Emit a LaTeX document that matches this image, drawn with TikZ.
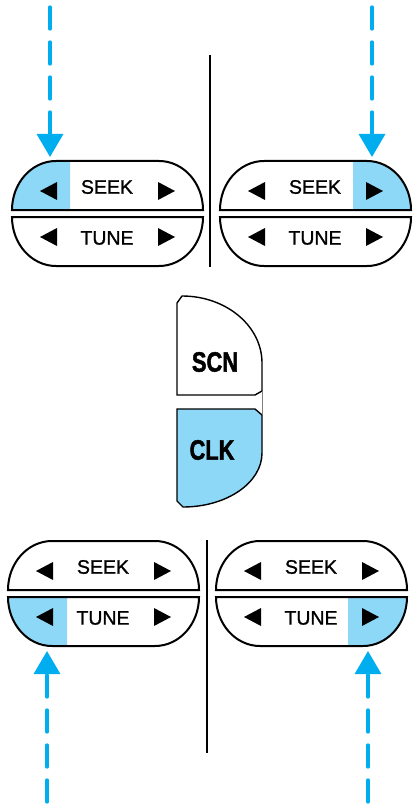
\documentclass[tikz,border=0pt]{standalone}
\usepackage{fontspec}
\setmainfont{Liberation Sans}
\newfontfamily\keyfont[FakeBold=1.2]{Liberation Sans}
\newfontfamily\padfont[FakeStretch=0.78, FakeBold=1.6]{Liberation Sans}
\usetikzlibrary{arrows.meta}

\definecolor{keyblue}{RGB}{142,216,247}
\definecolor{feedcyan}{RGB}{0,174,239}

% one SEEK/TUNE pair: #1 = left x, #2 = top y, #3 = name prefix
\newcommand{\keypair}[3]{%
  \draw[keyline] (#1,#2+49) arc[start angle=180, end angle=90, x radius=44pt, y radius=49pt]
    -- (#1+147,#2) arc[start angle=90, end angle=0, x radius=44pt, y radius=49pt] -- cycle;
  \draw[keyline] (#1,#2+56) arc[start angle=180, end angle=270, x radius=44pt, y radius=49pt]
    -- (#1+147,#2+105) arc[start angle=270, end angle=360, x radius=44pt, y radius=49pt] -- cycle;
  \node[keylabel] (#3seek) at (#1+95,#2+26) {SEEK};
  \node[keylabel] (#3tune) at (#1+95,#2+77) {TUNE};
  \fill (#1+28,#2+30) -- (#1+45,#2+21) -- (#1+45,#2+39) -- cycle;
  \fill (#1+163,#2+30) -- (#1+146,#2+21) -- (#1+146,#2+39) -- cycle;
  \fill (#1+28,#2+76) -- (#1+45,#2+67) -- (#1+45,#2+85) -- cycle;
  \fill (#1+163,#2+76) -- (#1+146,#2+67) -- (#1+146,#2+85) -- cycle;
}

\begin{document}
\begin{tikzpicture}[
      x=1pt, y=-1pt,
      keyline/.style={draw=black, line width=2pt},
      hilite/.style={fill=keyblue},
      keylabel/.style={font=\keyfont\fontsize{19.5}{21}\selectfont, inner sep=0pt},
      padline/.style={draw=black, line width=1.4pt},
      padlabel/.style={font=\padfont\bfseries\fontsize{28}{30}\selectfont, inner sep=0pt},
      divider/.style={draw=black, line width=2pt},
      feed/.style={draw=feedcyan, line width=3.3pt, line cap=round,
                   dash pattern=on 22pt off 13pt,
                   -{Triangle[length=23pt, width=26pt]}},
    ]
  \useasboundingbox (0,0) rectangle (417,805);

  % pressed parts
  \fill[hilite] (12,210) arc[start angle=180, end angle=90, x radius=44pt, y radius=49pt]
    -- (70,161) -- (70,210) -- cycle;
  \fill[hilite] (411,210) arc[start angle=0, end angle=90, x radius=44pt, y radius=49pt]
    -- (353,161) -- (353,210) -- cycle;
  \fill[hilite] (8,597) arc[start angle=180, end angle=270, x radius=44pt, y radius=49pt]
    -- (67,646) -- (67,597) -- cycle;
  \fill[hilite] (407,597) arc[start angle=0, end angle=-90, x radius=44pt, y radius=49pt]
    -- (348,646) -- (348,597) -- cycle;

  \keypair{12}{161}{tl}
  \keypair{220}{161}{tr}
  \keypair{8}{541}{bl}
  \keypair{216}{541}{br}

  \draw[divider] (210,55) -- (210,267);
  \draw[divider] (207,540) -- (207,753);

  % SCN / CLK
  \draw[padline] (177,303) -- (182,296)
    arc[start angle=90, end angle=0, x radius=80pt, y radius=67pt]
    -- (262,391) -- (255,395) -- (177,395) -- cycle;
  \draw[padline, fill=keyblue] (177,409) -- (255,409) -- (262,415) -- (262,453)
    arc[start angle=0, end angle=-90, x radius=79pt, y radius=54pt]
    -- (177,501) -- cycle;
  \draw[black!50, line width=0.8pt] (262,391) -- (262,415);

  \node[padlabel] (scn) at (215,362) {SCN};
  \node[padlabel] (clk) at (212,450) {CLK};

  % feed arrows
  \coordinate (tlfrom) at (50,7);
  \coordinate (tlto) at (50,157);
  \coordinate (trfrom) at (372,7);
  \coordinate (trto) at (372,157);
  \coordinate (blfrom) at (47,802);
  \coordinate (blto) at (47,651);
  \coordinate (brfrom) at (368,802);
  \coordinate (brto) at (368,651);

  \draw[feed] (tlfrom) -- (tlto);
  \draw[feed] (trfrom) -- (trto);
  \draw[feed] (blfrom) -- (blto);
  \draw[feed] (brfrom) -- (brto);

\end{tikzpicture}
\end{document}
